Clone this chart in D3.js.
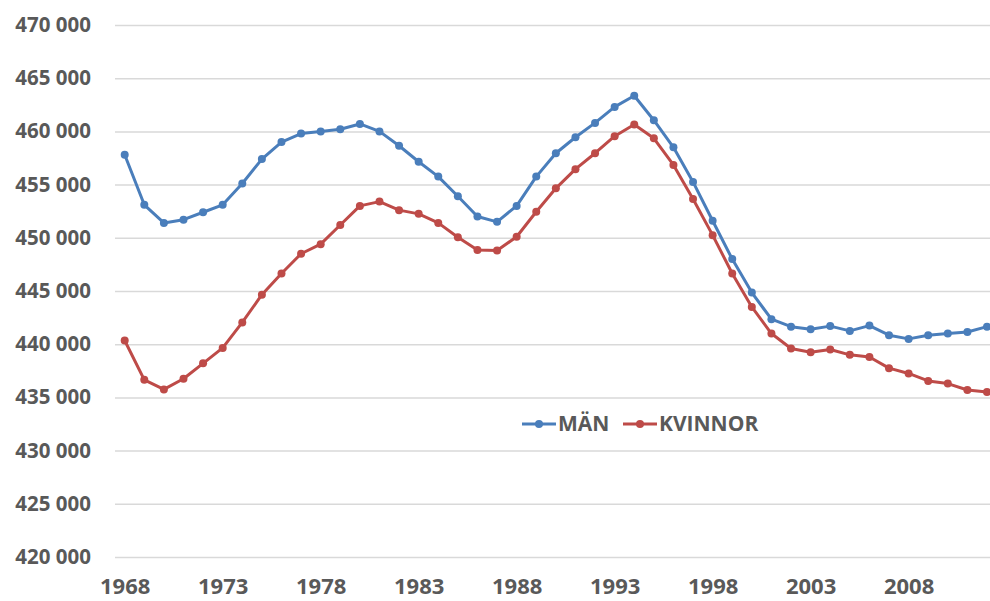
<!DOCTYPE html>
<html>
<head>
<meta charset="utf-8">
<script src="https://cdn.jsdelivr.net/npm/d3@7"></script>
<style>
  body { margin: 0; background: #fff; }
  svg text { font-family: "Open Sans", sans-serif; font-weight: 700; fill: #595959; }
</style>
</head>
<body>
<div id="chart"></div>
<script>
// years on the category axis
const years = d3.range(1968, 2013);
const tickYears = [1968, 1973, 1978, 1983, 1988, 1993, 1998, 2003, 2008];
const yTicks = [420000, 425000, 430000, 435000, 440000, 445000, 450000, 455000, 460000, 465000, 470000];

// MÄN
const men = [457800, 453100, 451400, 451700, 452400, 453100, 455100, 457400, 459000, 459800,
  460000, 460200, 460700, 460000, 458650, 457150, 455750, 453900, 452000, 451500,
  453000, 455750, 457950, 459450, 460800, 462300, 463350, 461050, 458500, 455250,
  451600, 448000, 444850, 442350, 441650, 441400, 441700, 441250, 441750, 440850,
  440500, 440850, 441000, 441150, 441650];
// KVINNOR
const women = [440350, 436650, 435750, 436750, 438200, 439650, 442050, 444650, 446650, 448500,
  449400, 451200, 453000, 453400, 452600, 452250, 451400, 450050, 448850, 448800,
  450100, 452450, 454650, 456450, 457950, 459550, 460650, 459350, 456850, 453650,
  450250, 446650, 443500, 441000, 439600, 439250, 439500, 439000, 438800, 437750,
  437250, 436550, 436300, 435700, 435500];

const seriesNames = ["MÄN", "KVINNOR"];
const colors = ["#4a7ebb", "#be4b48"];

const width = 990, height = 601;
const svg = d3.select("#chart").append("svg")
    .attr("width", width)
    .attr("height", height);

// plot area runs past the right edge, like the cropped original
const x = d3.scalePoint().domain(years).range([124.7, 987]);
const y = d3.scaleLinear().domain([420000, 470000]).range([557, 25]);

const fmt = v => d3.format(",")(v).replace(",", " ");

// gridlines + y labels
const yAxis = d3.axisLeft(y).tickValues(yTicks).tickFormat(fmt).tickSize(-(1000 - 115)).tickPadding(24);
svg.append("g")
    .attr("transform", "translate(115,0)")
    .call(yAxis)
    .call(g => g.select(".domain").remove())
    .call(g => g.selectAll(".tick line").attr("stroke", "#d9d9d9").attr("stroke-width", 1.5))
    .call(g => g.selectAll(".tick text").attr("font-size", 20.5).attr("fill", "#595959"));

// x labels
const xAxis = d3.axisBottom(x).tickValues(tickYears).tickSize(0).tickPadding(21);
svg.append("g")
    .attr("transform", "translate(0,557)")
    .call(xAxis)
    .call(g => g.select(".domain").remove())
    .call(g => g.selectAll(".tick text").attr("font-size", 22).attr("fill", "#595959"));

const line = d3.line().x((d, i) => x(years[i])).y(d => y(d));

[men, women].forEach((data, k) => {
  svg.append("path")
      .datum(data)
      .attr("fill", "none")
      .attr("stroke", colors[k])
      .attr("stroke-width", 3)
      .attr("stroke-linejoin", "round")
      .attr("d", line);
  svg.append("g").selectAll("circle")
      .data(data)
      .join("circle")
      .attr("cx", (d, i) => x(years[i]))
      .attr("cy", d => y(d))
      .attr("r", 4)
      .attr("fill", colors[k]);
});

// legend
const legendPos = [522, 623];
const legend = svg.selectAll(".legend")
    .data(seriesNames)
    .enter().append("g")
    .attr("class", "legend")
    .attr("transform", (d, i) => "translate(" + legendPos[i] + ",424)");

legend.append("line")
    .attr("x1", 0).attr("x2", 34)
    .attr("stroke", (d, i) => colors[i])
    .attr("stroke-width", 3);
legend.append("circle")
    .attr("cx", 17).attr("r", 4)
    .attr("fill", (d, i) => colors[i]);
legend.append("text")
    .attr("x", 36)
    .attr("dy", "0.35em")
    .attr("font-size", 21)
    .text(d => d);
</script>
</body>
</html>
